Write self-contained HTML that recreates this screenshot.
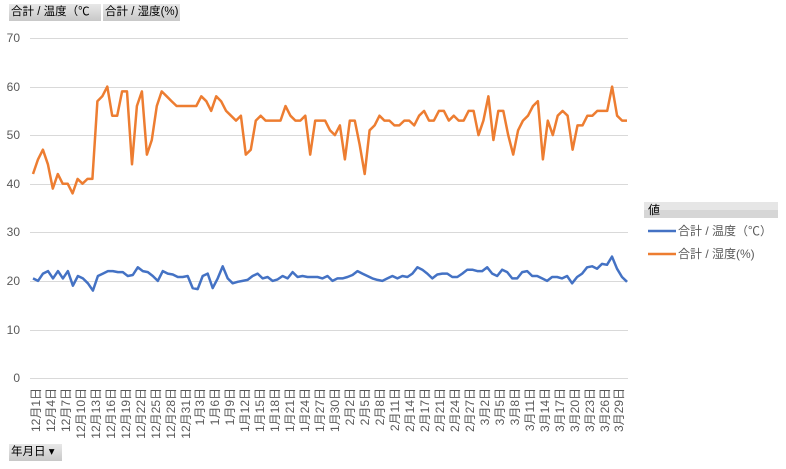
<!DOCTYPE html>
<html><head><meta charset="utf-8"><style>
body{margin:0;background:#fff;width:786px;height:469px;overflow:hidden;font-family:"Liberation Sans","Noto Sans CJK JP",sans-serif}
.btn{position:absolute;box-sizing:border-box;height:17px;line-height:17px;font-size:11.5px;color:#000;background:linear-gradient(#e8e8e8,#c8c8c8);padding:0 2px;white-space:nowrap;overflow:hidden;font-family:"Liberation Sans","Noto Sans CJK JP",sans-serif}
</style></head><body>
<div class="btn" style="left:9px;top:4px;width:92px">合計 / 温度（℃</div>
<div class="btn" style="left:103px;top:4px;width:77px">合計 / 湿度(%)</div>
<div class="btn" style="left:9px;top:444px;width:53px">年月日 ▾</div>
<svg width="786" height="469" style="position:absolute;left:0;top:0" font-family="Liberation Sans, Noto Sans CJK JP, sans-serif">
<g stroke="#d9d9d9" stroke-width="1">
<line x1="30" x2="628" y1="38.5" y2="38.5"/><line x1="30" x2="628" y1="87.5" y2="87.5"/><line x1="30" x2="628" y1="135.5" y2="135.5"/><line x1="30" x2="628" y1="184.5" y2="184.5"/><line x1="30" x2="628" y1="232.5" y2="232.5"/><line x1="30" x2="628" y1="281.5" y2="281.5"/><line x1="30" x2="628" y1="330.5" y2="330.5"/><line x1="30" x2="628" y1="378.5" y2="378.5"/>
</g>
<g font-size="12" fill="#595959" text-anchor="end">
<text x="20" y="42">70</text><text x="20" y="91">60</text><text x="20" y="139">50</text><text x="20" y="188">40</text><text x="20" y="236">30</text><text x="20" y="285">20</text><text x="20" y="334">10</text><text x="20" y="382">0</text>
</g>
<polyline id="h" fill="none" stroke="#ed7d31" stroke-width="2.5" stroke-linejoin="round"/>
<polyline id="t" fill="none" stroke="#4472c4" stroke-width="2.5" stroke-linejoin="round"/>
<rect x="644" y="202" width="134" height="16" fill="#d6d6d6"/>
<rect x="644" y="202" width="134" height="8" fill="#e6e6e6"/>
<text x="648" y="214" font-size="12" fill="#000">値</text>
<line x1="648" x2="676" y1="231" y2="231" stroke="#4472c4" stroke-width="2.5"/>
<text x="678" y="235" font-size="12" fill="#595959">合計 / 温度（℃）</text>
<line x1="648" x2="676" y1="254" y2="254" stroke="#ed7d31" stroke-width="2.5"/>
<text x="678" y="258" font-size="12" fill="#595959">合計 / 湿度(%)</text>
</svg>
<script>
var H=[42,45,47,44,39,42,40,40,38,41,40,41,41,57,58,60,54,54,59,59,44,56,59,46,49,56,59,58,57,56,56,56,56,56,58,57,55,58,57,55,54,53,54,46,47,53,54,53,53,53,53,56,54,53,53,54,46,53,53,53,51,50,52,45,53,53,48,42,51,52,54,53,53,52,52,53,53,52,54,55,53,53,55,55,53,54,53,53,55,55,50,53,58,49,55,55,50,46,51,53,54,56,57,45,53,50,54,55,54,47,52,52,54,54,55,55,55,60,54,53,53];
var T=[20.5,20,21.5,22,20.5,22,20.5,22,19,21,20.5,19.5,18,21,21.5,22,22,21.8,21.8,21,21.2,22.8,22,21.8,21,20,22,21.5,21.3,20.8,20.8,21,18.5,18.3,21,21.5,18.5,20.5,23,20.5,19.5,19.8,20,20.2,21,21.5,20.5,20.8,20,20.3,21,20.5,21.8,20.8,21,20.8,20.8,20.8,20.5,21,20,20.5,20.5,20.8,21.2,22,21.5,21,20.5,20.2,20,20.5,21,20.5,21,20.8,21.5,22.8,22.3,21.5,20.5,21.3,21.5,21.5,20.8,20.8,21.5,22.3,22.3,22,22,22.8,21.5,21,22.3,21.8,20.5,20.5,21.8,22,21,21,20.5,20,20.8,20.8,20.5,21,19.5,20.8,21.5,22.8,23,22.5,23.5,23.3,25,22.5,20.8,19.8];
function pts(a){var n=a.length,s=[];for(var i=0;i<n;i++){s.push((33+i*(594/(n-1))).toFixed(1)+","+(378-a[i]*4.857).toFixed(1));}return s.join(" ");}
document.getElementById('h').setAttribute('points',pts(H));
document.getElementById('t').setAttribute('points',pts(T));
</script>
<svg width="786" height="469" style="position:absolute;left:0;top:0" font-family="Liberation Sans, Noto Sans CJK JP, sans-serif">
<g font-size="12" fill="#595959" text-anchor="end">
<text transform="translate(40,388) rotate(-90)">12月1日</text>
<text transform="translate(55,388) rotate(-90)">12月4日</text>
<text transform="translate(70,388) rotate(-90)">12月7日</text>
<text transform="translate(85,388) rotate(-90)">12月10日</text>
<text transform="translate(100,388) rotate(-90)">12月13日</text>
<text transform="translate(115,388) rotate(-90)">12月16日</text>
<text transform="translate(130,388) rotate(-90)">12月19日</text>
<text transform="translate(145,388) rotate(-90)">12月22日</text>
<text transform="translate(160,388) rotate(-90)">12月25日</text>
<text transform="translate(175,388) rotate(-90)">12月28日</text>
<text transform="translate(190,388) rotate(-90)">12月31日</text>
<text transform="translate(204,388) rotate(-90)">1月3日</text>
<text transform="translate(219,388) rotate(-90)">1月6日</text>
<text transform="translate(234,388) rotate(-90)">1月9日</text>
<text transform="translate(249,388) rotate(-90)">1月12日</text>
<text transform="translate(264,388) rotate(-90)">1月15日</text>
<text transform="translate(279,388) rotate(-90)">1月18日</text>
<text transform="translate(294,388) rotate(-90)">1月21日</text>
<text transform="translate(309,388) rotate(-90)">1月24日</text>
<text transform="translate(324,388) rotate(-90)">1月27日</text>
<text transform="translate(339,388) rotate(-90)">1月30日</text>
<text transform="translate(354,388) rotate(-90)">2月2日</text>
<text transform="translate(369,388) rotate(-90)">2月5日</text>
<text transform="translate(384,388) rotate(-90)">2月8日</text>
<text transform="translate(399,388) rotate(-90)">2月11日</text>
<text transform="translate(414,388) rotate(-90)">2月14日</text>
<text transform="translate(429,388) rotate(-90)">2月17日</text>
<text transform="translate(444,388) rotate(-90)">2月21日</text>
<text transform="translate(459,388) rotate(-90)">2月24日</text>
<text transform="translate(474,388) rotate(-90)">2月27日</text>
<text transform="translate(489,388) rotate(-90)">3月2日</text>
<text transform="translate(504,388) rotate(-90)">3月5日</text>
<text transform="translate(519,388) rotate(-90)">3月8日</text>
<text transform="translate(534,388) rotate(-90)">3月11日</text>
<text transform="translate(549,388) rotate(-90)">3月14日</text>
<text transform="translate(564,388) rotate(-90)">3月17日</text>
<text transform="translate(579,388) rotate(-90)">3月20日</text>
<text transform="translate(594,388) rotate(-90)">3月23日</text>
<text transform="translate(609,388) rotate(-90)">3月26日</text>
<text transform="translate(623,388) rotate(-90)">3月29日</text>
</g></svg>
</body></html>
